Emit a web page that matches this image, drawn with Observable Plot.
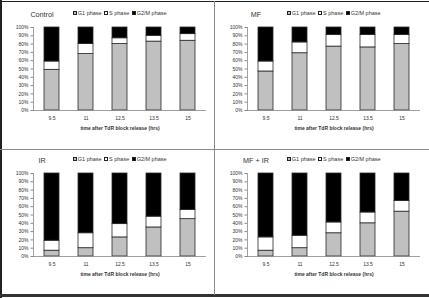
<!DOCTYPE html>
<html><head><meta charset="utf-8">
<script src="https://cdn.jsdelivr.net/npm/d3@7"></script>
<script src="https://cdn.jsdelivr.net/npm/@observablehq/plot@0.6"></script>
<style>
html,body{margin:0;padding:0;background:#fff;}
#wrap{position:relative;width:429px;height:298px;background:#fff;overflow:hidden;font-family:"Liberation Sans",Arial,sans-serif;}
.panel{position:absolute;width:214px;height:146px;}
.panel svg{position:absolute;left:0;top:0;overflow:visible;}
.title{position:absolute;font-size:7.2px;font-weight:normal;color:#333;transform:translate(-50%,-50%);white-space:nowrap;}
.legend{position:absolute;font-size:5.5px;color:#333;white-space:nowrap;transform:translateY(-50%);display:flex;align-items:center;}
.legend .sw{display:inline-block;width:4px;height:4px;border:0.7px solid #222;margin-right:0.8px;box-sizing:border-box;}
.legend .it{display:inline-flex;align-items:center;margin-right:2.6px;}
.line{position:absolute;}
svg [aria-label="x-axis label"] text, svg [aria-label="x-axis label"]{font-weight:bold;}
</style>
</head><body>
<div id="wrap"></div>
<script>
const times = ["9.5","11","12.5","13.5","15"];
const phases = ["G1 phase","S phase","G2/M phase"];
const phaseColors = ["#c0c0c0","#ffffff","#000000"];
const yTicks = [0,10,20,30,40,50,60,70,80,90,100];
const xLabel = "time after TdR block release (hrs)";
const panelTitles = ["Control","MF","IR","MF + IR"];

const controlG1  = [49,68,80,83,84];
const controlS   = [10,12,7,7,8];
const controlG2M = [41,20,13,10,8];

const mfG1  = [47,69,77,76,80];
const mfS   = [12,13,14,15,11];
const mfG2M = [41,18,9,9,9];

const irG1  = [7,10,23,35,45];
const irS   = [12,18,16,13,11];
const irG2M = [81,72,61,52,44];

const mfirG1  = [7,10,28,40,54];
const mfirS   = [16,15,13,13,13];
const mfirG2M = [77,75,59,47,33];

const panelSeries = [
  [controlG1, controlS, controlG2M],
  [mfG1, mfS, mfG2M],
  [irG1, irS, irG2M],
  [mfirG1, mfirS, mfirG2M]
];
const offsets = [[0,0],[214,0],[0,146],[214,146]];

const wrap = document.getElementById("wrap");

function line(css){const d=document.createElement("div");d.className="line";Object.assign(d.style,css);wrap.appendChild(d);}

panelSeries.forEach((series, pi) => {
  const rows = [];
  times.forEach((t, i) => phases.forEach((p, k) => rows.push({time: t, phase: p, value: series[k][i]})));
  const panel = document.createElement("div");
  panel.className = "panel";
  panel.style.left = offsets[pi][0] + "px";
  panel.style.top = offsets[pi][1] + "px";
  const chart = Plot.plot({
    width: 214, height: 146,
    marginTop: 27, marginBottom: 36, marginLeft: 33, marginRight: 8,
    style: {fontFamily: "'Liberation Sans', Arial, sans-serif", fontSize: "5px", background: "transparent", color: "#333", overflow: "visible"},
    x: {domain: times, paddingInner: 0.565, paddingOuter: 0.2825, align: 0.5},
    y: {domain: [0,100]},
    color: {domain: phases, range: phaseColors},
    marks: [
      Plot.barY(rows, {x: "time", y: "value", fill: "phase", order: phases, stroke: "#2a2a2a", strokeWidth: 0.8}),
      Plot.frame({anchor: "left", stroke: "#888", strokeWidth: 0.8}),
      Plot.ruleY([0], {stroke: "#888", strokeWidth: 0.8}),
      Plot.axisY({ticks: yTicks, tickFormat: d => d + "%", tickSize: 2.5, tickPadding: 2.5, stroke: "#888", label: null}),
      Plot.axisX({tickSize: 0, tickPadding: 6, label: xLabel, labelAnchor: "center", labelArrow: "none", labelOffset: 19, fontSize: 5})
    ]
  });
  panel.appendChild(chart);
  const title = document.createElement("div");
  title.className = "title";
  title.textContent = panelTitles[pi];
  title.style.left = "42px"; title.style.top = "14px";
  panel.appendChild(title);
  const leg = document.createElement("div");
  leg.className = "legend";
  leg.style.left = "73px"; leg.style.top = "12.7px";
  phases.forEach((p, k) => {
    const it = document.createElement("span"); it.className = "it";
    const sw = document.createElement("span"); sw.className = "sw"; sw.style.background = phaseColors[k];
    it.appendChild(sw); it.appendChild(document.createTextNode(p));
    leg.appendChild(it);
  });
  panel.appendChild(leg);
  wrap.appendChild(panel);
});

// panel frame lines
line({left:"0",top:"1px",width:"429px",height:"1.3px",background:"#222"});
line({left:"0",top:"0",width:"1.6px",height:"298px",background:"#222"});
line({left:"0",top:"294px",width:"429px",height:"3px",background:"#333"});
line({left:"214px",top:"1px",width:"1px",height:"294px",background:"#888"});
line({left:"0",top:"149px",width:"429px",height:"1px",background:"#888"});
</script>
</body></html>
